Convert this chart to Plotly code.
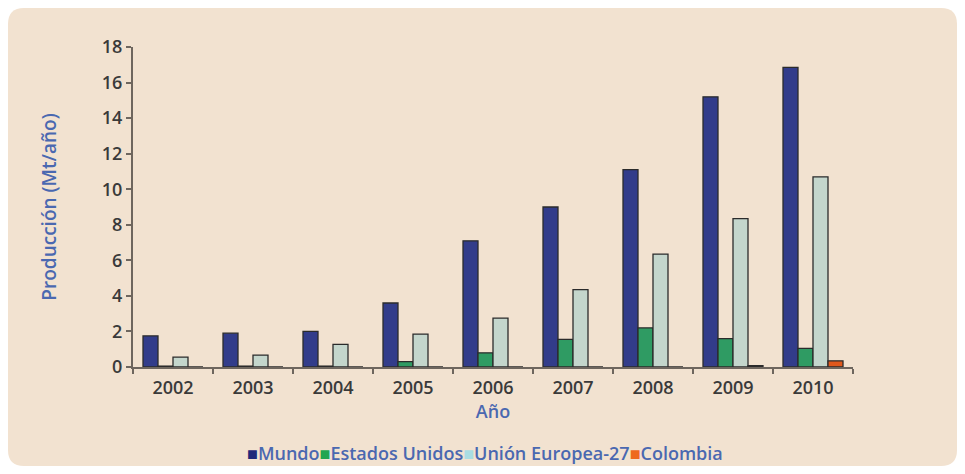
import plotly.graph_objects as go

years = ["2002", "2003", "2004", "2005", "2006", "2007", "2008", "2009", "2010"]
mundo = [1.75, 1.9, 2.0, 3.6, 7.1, 9.0, 11.1, 15.2, 16.85]
estados_unidos = [0.05, 0.05, 0.05, 0.3, 0.8, 1.55, 2.2, 1.6, 1.05]
union_europea = [0.55, 0.67, 1.27, 1.85, 2.75, 4.35, 6.35, 8.35, 10.7]
colombia = [0.0, 0.0, 0.0, 0.0, 0.0, 0.0, 0.0, 0.08, 0.35]

series_names = ["Mundo", "Estados Unidos", "Unión Europea-27", "Colombia"]
bar_colors = ["#323C8A", "#2F9B63", "#C4D6CC", "#E0581C"]
legend_colors = ["#1F2A7A", "#22A650", "#A9DDE3", "#EE6A1E"]
series_values = [mundo, estados_unidos, union_europea, colombia]

# page has an 8px body margin; figure sized so the page fits the window
W, H = 949, 458
L, R, T, B = 125, 104, 39, 99
pw, ph = W - L - R, H - T - B

FONT = "Open Sans, sans-serif"
BLUE = "#4A68B0"
DARK = "#3A3A3A"

fig = go.Figure()
for name, vals, col in zip(series_names, series_values, bar_colors):
    fig.add_trace(go.Bar(
        x=years, y=vals, name=name, showlegend=False,
        marker=dict(color=col, line=dict(color="#2b2b2b", width=1.3)),
    ))

# custom compact legend (coloured squares + labels)
legend_text = "".join(
    f"<span style='color:{c}'>■</span>{n}" for n, c in zip(series_names, legend_colors)
)

def px(x):
    return (x - L) / pw
def py(y):
    return (H - B - y) / ph
x0, x1, y0, y1, r = 0, 949, 0, 458, 16
path = (
    f"M {px(x0 + r)} {py(y0)} L {px(x1 - r)} {py(y0)} "
    f"Q {px(x1)} {py(y0)} {px(x1)} {py(y0 + r)} "
    f"L {px(x1)} {py(y1 - r)} Q {px(x1)} {py(y1)} {px(x1 - r)} {py(y1)} "
    f"L {px(x0 + r)} {py(y1)} Q {px(x0)} {py(y1)} {px(x0)} {py(y1 - r)} "
    f"L {px(x0)} {py(y0 + r)} Q {px(x0)} {py(y0)} {px(x0 + r)} {py(y0)} Z"
)

fig.update_layout(
    width=W, height=H,
    margin=dict(l=L, r=R, t=T, b=B),
    paper_bgcolor="white",
    plot_bgcolor="rgba(0,0,0,0)",
    barmode="group",
    bargap=0.25,
    bargroupgap=0.0,
    showlegend=False,
    font=dict(family=FONT),
    shapes=[dict(type="path", xref="paper", yref="paper", path=path,
                 fillcolor="#F2E2D0", line=dict(width=0), layer="below")],
    annotations=[dict(
        text=legend_text, xref="paper", yref="paper",
        x=px(477), y=py(445), xanchor="center", yanchor="middle",
        showarrow=False, font=dict(family=FONT, size=18, color=BLUE, weight=600),
    )],
)
fig.update_xaxes(
    type="category",
    showline=True, linecolor="#6E665E", linewidth=2,
    ticks="outside", tickson="boundaries", ticklen=5, tickcolor="#6E665E", tickwidth=1.5,
    ticklabelstandoff=3,
    tickfont=dict(size=18, color=DARK, weight=600),
    title=dict(text="Año", font=dict(size=18, color=BLUE, weight=600), standoff=4),
    showgrid=False,
)
fig.update_yaxes(
    range=[0, 18], dtick=2,
    showline=True, linecolor="#6E665E", linewidth=2,
    ticks="outside", ticklen=5, tickcolor="#6E665E", tickwidth=1.5,
    tickfont=dict(size=18, color=DARK, weight=600),
    title=dict(text="Producción (Mt/año)", font=dict(size=19, color=BLUE, weight=600), standoff=40),
    showgrid=False, zeroline=False,
)

fig.write_html("out.html")
